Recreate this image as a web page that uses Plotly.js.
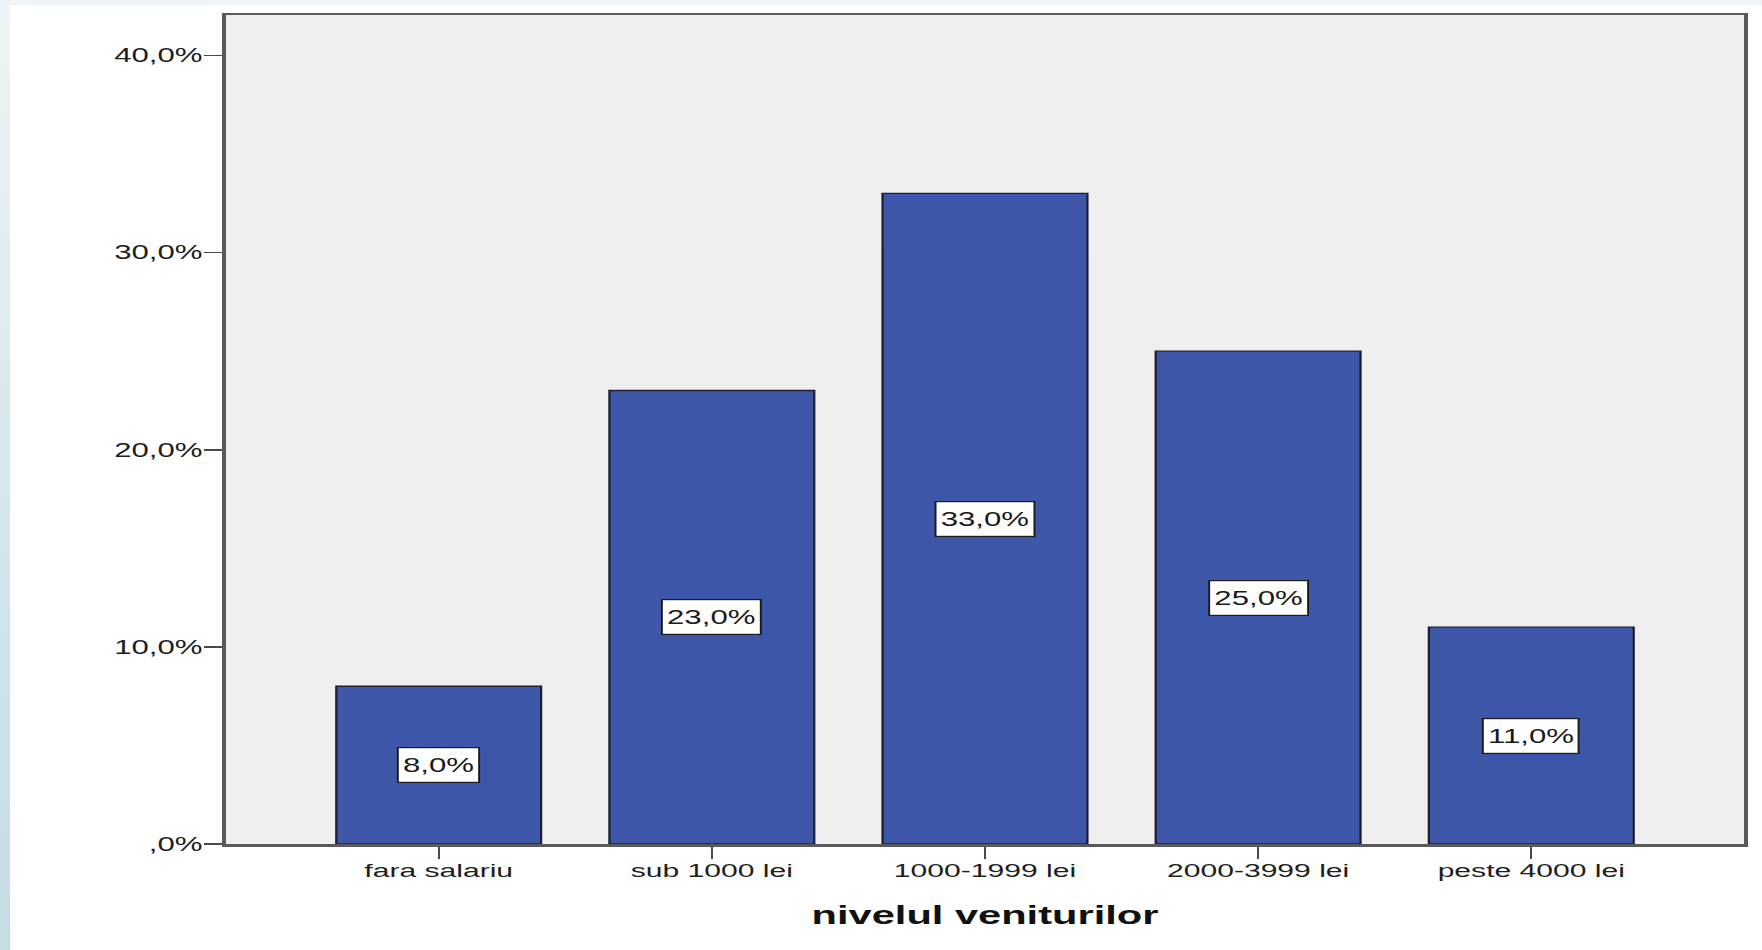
<!DOCTYPE html>
<html>
<head>
<meta charset="utf-8">
<script src="https://cdn.plot.ly/plotly-3.0.1.min.js"></script>
<style>
  html, body { margin: 0; padding: 0; }
  #page {
    position: relative;
    width: 1762px;
    height: 950px;
    overflow: hidden;
    background: #f0f5f7;
  }
  #sideband {
    position: absolute; left: 0; top: 0; width: 10px; height: 950px;
    background: linear-gradient(to bottom, #eef4f7 0%, #d9e8ee 45%, #c4dce4 100%);
  }
  #panel {
    position: absolute; left: 10px; top: 5px; right: 0; bottom: 0;
    background: #ffffff;
  }
  /* the chart is laid out narrow and widened horizontally, giving the broad lettering */
  #chart {
    position: absolute; left: 0; top: 0;
    width: 1101px; height: 950px;
    transform: scaleX(1.6003);
    transform-origin: 0 0;
  }
</style>
</head>
<body>
<div id="page">
  <div id="sideband"></div>
  <div id="panel"></div>
  <div id="chart"></div>
</div>
<script>
// income levels and the share of respondents in each (percent)
const categories = ["fara salariu", "sub 1000 lei", "1000-1999 lei", "2000-3999 lei", "peste 4000 lei"];
const shares = [8.0, 23.0, 33.0, 25.0, 11.0];

// y axis ticks
const yTickValues = [0, 10, 20, 30, 40];
const yTickLabels = [",0%", "10,0%", "20,0%", "30,0%", "40,0%"];

const axisTitle = "nivelul veniturilor";

// percent with a decimal comma, e.g. 33 -> "33,0%"
function pct(v) {
  return v.toFixed(1).replace(".", ",") + "%";
}

const FONT = "Liberation Sans, Arial, sans-serif";

const trace = {
  type: "bar",
  x: categories,
  y: shares,
  marker: {
    color: "#3d56a8",
    line: { color: "#1c1f33", width: 1.4 }
  },
  hoverinfo: "skip"
};

// value boxes sit halfway up each bar
const labels = categories.map((c, i) => ({
  x: c,
  y: shares[i] / 2,
  xref: "x",
  yref: "y",
  text: pct(shares[i]),
  showarrow: false,
  height: 28,
  bgcolor: "#ffffff",
  bordercolor: "#1a1a1a",
  borderwidth: 1.2,
  borderpad: 2.6,
  font: { family: FONT, size: 19.5, color: "#1a1a1a" }
}));

const layout = {
  width: 1101,
  height: 950,
  margin: { l: 140.6, r: 10.6, t: 15, b: 106 },
  paper_bgcolor: "rgba(0,0,0,0)",
  plot_bgcolor: "#efefef",
  showlegend: false,
  bargap: 0.25,
  xaxis: {
    type: "category",
    range: [-0.78, 4.78],
    showline: true,
    linecolor: "#5a5a5a",
    linewidth: 2.5,
    mirror: true,
    ticks: "outside",
    ticklen: 12,
    tickwidth: 1.4,
    tickcolor: "#4a4a4a",
    ticklabelstandoff: -4,
    tickfont: { family: FONT, size: 18.8, color: "#1e1e1e" },
    showgrid: false,
    zeroline: false,
    fixedrange: true,
    title: {
      text: axisTitle,
      font: { family: FONT, size: 26, color: "#111111", weight: "bold" },
      standoff: 26
    }
  },
  yaxis: {
    range: [0, 42.05],
    tickmode: "array",
    tickvals: yTickValues,
    ticktext: yTickLabels,
    showline: true,
    linecolor: "#5a5a5a",
    linewidth: 2.5,
    mirror: true,
    ticks: "outside",
    ticklen: 11,
    tickwidth: 1.6,
    tickcolor: "#4a4a4a",
    ticklabelstandoff: -3,
    tickfont: { family: FONT, size: 19.5, color: "#1e1e1e" },
    showgrid: false,
    zeroline: false,
    fixedrange: true
  },
  annotations: labels
};

Plotly.newPlot("chart", [trace], layout, { displayModeBar: false, staticPlot: true });
</script>
</body>
</html>
